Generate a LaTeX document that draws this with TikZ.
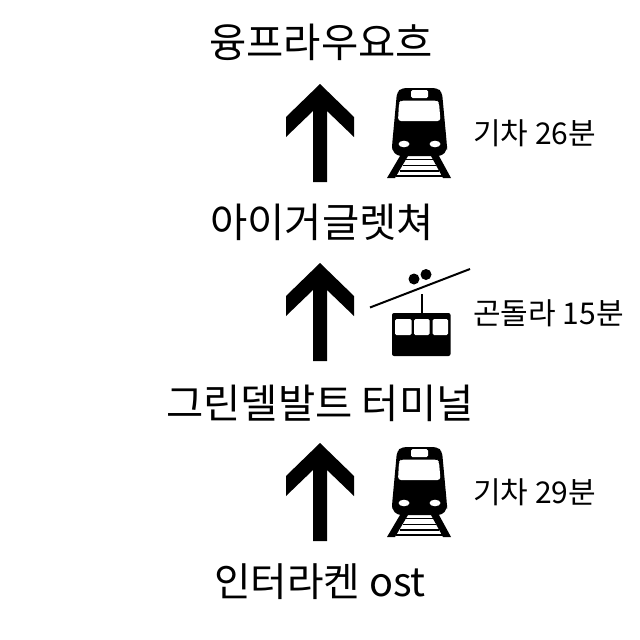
\documentclass[tikz,border=0pt]{standalone}
\usepackage{fontspec}
\setmainfont{Noto Sans CJK KR}
\tikzset{
  x=1pt,y=-1pt,
  stop/.style={inner sep=0pt,anchor=center,font=\fontsize{40.5}{40.5}\selectfont},
  note/.style={inner sep=0pt,anchor=west,font=\fontsize{30}{30}\selectfont}
}
\newcommand{\uparrowmark}[2]{% x-centre is 320; #1 tip y, #2 bottom y
  \fill[black] (320,#1) -- (354,#1+33) -- (354,#1+53) -- (327,#1+27) -- (327,#2)
    -- (313,#2) -- (313,#1+27) -- (286,#1+53) -- (286,#1+33) -- cycle;}
\newcommand{\trainmark}[1]{% #1 y offset
  \begin{scope}[yshift=-#1pt]
  \fill[black,rounded corners=4pt] (402,88) -- (437,88) -- (442,92) -- (447,146) -- (447,150) -- (442,156) -- (397,156) -- (392,150) -- (392,146) -- (397,92) -- cycle;
  \fill[white,rounded corners=3pt] (401,100.5) -- (437,100.5) -- (439,103) -- (440.5,121) -- (398,121) -- (399,103) -- cycle;
  \fill[white,rounded corners=1.5pt] (411,90) rectangle (428,98);
  \fill[white] (404,144) ellipse (5.5 and 3.3);
  \fill[white] (435,144) ellipse (5.5 and 3.3);
  \fill[black] (400,156) -- (408,156) -- (395,178) -- (387,178) -- cycle;
  \fill[black] (431,156) -- (439,156) -- (451,178) -- (443,178) -- cycle;
  \fill[black] (406,158.5) rectangle (433,160);
  \fill[black] (403,164.5) rectangle (436,166);
  \fill[black] (400,170) rectangle (439,171.5);
  \fill[black] (396,175) rectangle (443,176.7);
  \end{scope}}
\begin{document}
\begin{tikzpicture}
\useasboundingbox (0,0) rectangle (640,640);
\fill[white] (0,0) rectangle (640,640);
\node[stop] (a) at (321,42) {융프라우요흐};
\node[stop] (b) at (322,222) {아이거글렛쳐};
\node[stop] (c) at (320,403) {그린델발트 터미널};
\node[stop,font=\fontsize{39.7}{39.7}\selectfont] (d) at (320,582) {인터라켄 ost};
\node[note] (t1) at (473,133) {기차 26분};
\node[note] (t2) at (473,313) {곤돌라 15분};
\node[note] (t3) at (473,492) {기차 29분};
\uparrowmark{84}{182}
\uparrowmark{263}{361}
\uparrowmark{443}{541}
\trainmark{0}
\trainmark{359}
% gondola
\draw[black,line width=2pt] (370,307.5) -- (470,269);
\fill[black] (414,279) circle (5.5);
\fill[black] (426,274.5) circle (5.5);
\draw[black,line width=2pt] (421.7,294) -- (421.7,315);
\fill[black,rounded corners=2pt] (392,313) rectangle (450.5,356);
\fill[white,rounded corners=1.5pt] (395,319) rectangle (411.5,335);
\fill[white,rounded corners=1.5pt] (414,319) rectangle (429.5,335);
\fill[white,rounded corners=1.5pt] (432.5,319) rectangle (448,335);
\end{tikzpicture}
\end{document}
